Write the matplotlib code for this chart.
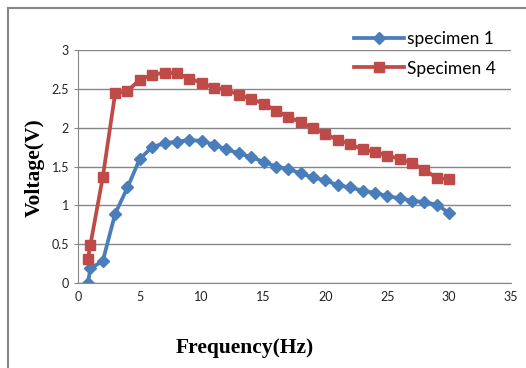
import numpy as np
import matplotlib.pyplot as plt
from matplotlib.patches import Rectangle

# frecuencias (Hz)
freq = [0.8, 1] + list(range(2, 31))

# voltajes
specimen1 = [0.0, 0.19, 0.28, 0.89, 1.23, 1.6, 1.75, 1.80, 1.82, 1.84, 1.83, 1.78,
             1.72, 1.67, 1.62, 1.56, 1.50, 1.47, 1.41, 1.36, 1.32, 1.26, 1.23, 1.19,
             1.16, 1.12, 1.09, 1.06, 1.04, 1.01, 0.90]
specimen4 = [0.31, 0.49, 1.36, 2.44, 2.47, 2.62, 2.68, 2.71, 2.70, 2.63, 2.58, 2.51,
             2.49, 2.42, 2.37, 2.31, 2.22, 2.14, 2.07, 1.99, 1.92, 1.84, 1.79, 1.72,
             1.69, 1.64, 1.60, 1.54, 1.46, 1.35, 1.34]

labels = ['specimen 1', 'Specimen 4']

W, H = 526, 368
fig = plt.figure(figsize=(W / 100, H / 100), dpi=100)
ax = fig.add_axes([78 / W, 1 - 283 / H, (511 - 78) / W, (283 - 50) / H])

gris = '#868686'
tick_font = 'Lato'

ax.plot(freq, specimen1, color='#4A7EBB', lw=2.7, marker='D', ms=6.5, label=labels[0])
ax.plot(freq, specimen4, color='#BE4B48', lw=2.7, marker='s', ms=7.5, label=labels[1])

ax.set_xlim(0, 35)
ax.set_ylim(0, 3)
ax.set_xticks(np.arange(0, 36, 5))
ax.set_yticks(np.arange(0, 3.01, 0.5))
ax.set_yticklabels(['0', '0.5', '1', '1.5', '2', '2.5', '3'])
ax.grid(True, axis='y', color=gris, lw=1)
ax.set_axisbelow(True)
for s in ['top', 'right']:
    ax.spines[s].set_visible(False)
for s in ['left', 'bottom']:
    ax.spines[s].set_color(gris)
ax.tick_params(axis='y', colors=gris, labelcolor='#222222', labelsize=9, length=3)
ax.tick_params(axis='x', colors=gris, labelcolor='#222222', labelsize=9, length=0, pad=6)
for lab in ax.get_xticklabels() + ax.get_yticklabels():
    lab.set_family(tick_font)

fig.text(35 / W, 1 - 168 / H, 'Voltage(V)', rotation=90, ha='center', va='center',
         family='Liberation Serif', weight='bold', fontsize=15.5)
fig.text(245 / W, 1 - 348 / H, 'Frequency(Hz)', ha='center', va='center',
         family='Liberation Serif', weight='bold', fontsize=15.5)

fig.legend(loc='upper left', bbox_to_anchor=(338 / W, 1 - 15 / H), frameon=False,
           handlelength=2.9, handletextpad=0.15, labelspacing=0.8,
           prop={'family': tick_font, 'size': 12.5})

# marco exterior
fig.patches.append(Rectangle((8 / W, -0.1), 1.2, 1 - 8 / H + 0.1, transform=fig.transFigure,
                             fill=False, edgecolor=gris, lw=1.5, clip_on=False))

fig.savefig('out.png', dpi=100)
